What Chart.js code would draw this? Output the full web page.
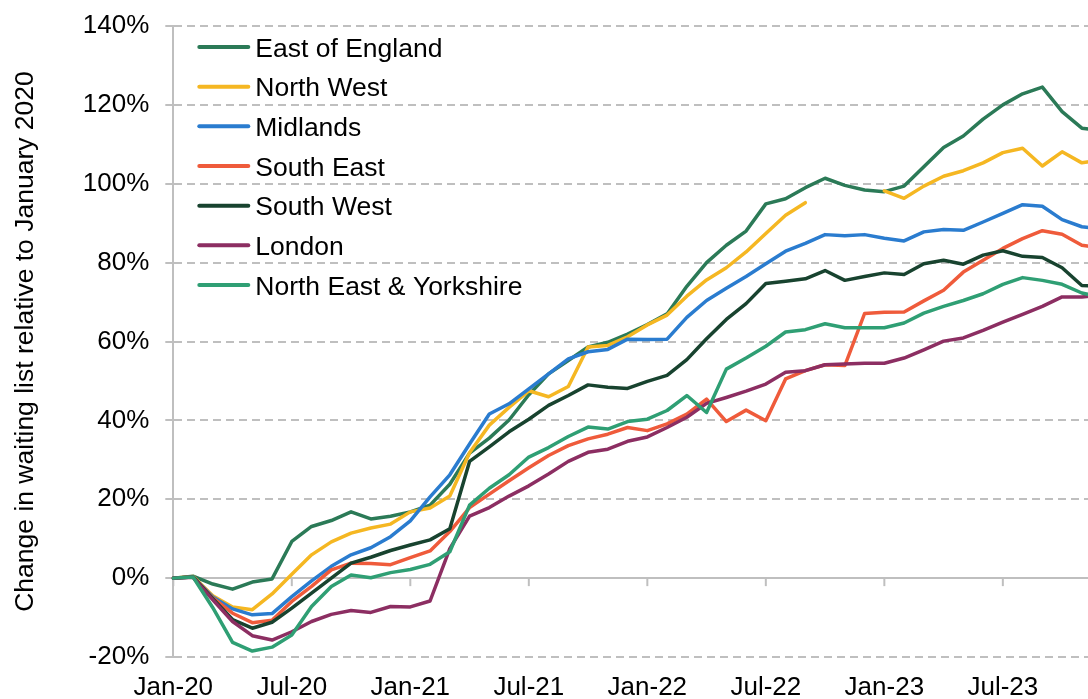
<!DOCTYPE html>
<html>
<head>
<meta charset="utf-8">
<script src="https://cdn.jsdelivr.net/npm/chart.js@4.4.0/dist/chart.umd.min.js"></script>
<style>
  html, body { margin: 0; padding: 0; background: #fff; overflow: hidden; }
  #wrap { width: 1088px; height: 699px; overflow: hidden; position: relative; }
  canvas { display: block; }
</style>
</head>
<body>
<div id="wrap"><canvas id="waitChart" width="1130" height="720"></canvas></div>
<script>
// month labels Jan-20 .. Dec-23
const monthNames = ["Jan", "Feb", "Mar", "Apr", "May", "Jun", "Jul", "Aug", "Sep", "Oct", "Nov", "Dec"];
const years = ["20", "21", "22", "23"];
const months = [];
years.forEach(y => monthNames.forEach(m => months.push(m + "-" + y)));

// % change in waiting list relative to January 2020
const eastOfEngland = [0, 0.5, -1.5, -2.8, -1.0, -0.2, 9.3, 13.1, 14.6, 16.8, 15.0, 15.7,
  16.8, 18.5, 23.8, 31.7, 35.5, 40.1, 46.5, 51.8, 55.2, 58.6, 59.8, 61.9,
  64.3, 67.0, 74.0, 80.0, 84.4, 88.0, 94.9, 96.2, 99.0, 101.4, 99.6, 98.4,
  98.0, 99.4, 104.3, 109.2, 112.1, 116.4, 120.0, 122.8, 124.5, 118.3, 114.1, 113.5];
const northWest = [0, 0.4, -4.5, -7.3, -8.0, -4.0, 1.0, 5.9, 9.2, 11.4, 12.7, 13.7,
  16.8, 17.8, 20.8, 31.8, 38.8, 43.3, 47.5, 46.0, 48.6, 58.6, 59.0, 61.2,
  64.2, 66.7, 71.5, 75.6, 78.7, 82.7, 87.4, 92.0, 95.2, null, null, null,
  98.2, 96.3, 99.4, 101.9, 103.3, 105.3, 107.9, 109.0, 104.5, 108.1, 105.3, 106.0];
const midlands = [0, 0.3, -4.8, -7.8, -9.3, -9.0, -4.7, -0.7, 3.0, 5.9, 7.7, 10.5,
  14.5, 20.6, 26.2, 34.0, 41.6, 44.2, 48.0, 51.8, 55.6, 57.4, 58.0, 60.6,
  60.5, 60.6, 66.1, 70.4, 73.5, 76.5, 79.7, 82.9, 84.9, 87.1, 86.8, 87.1,
  86.2, 85.5, 87.8, 88.4, 88.2, 90.3, 92.5, 94.7, 94.3, 90.9, 89.1, 88.5];
const southEast = [0, 0.3, -5.0, -8.9, -11.3, -10.7, -5.9, -2.1, 2.1, 3.8, 3.7, 3.4,
  5.2, 6.9, 11.8, 17.9, 21.3, 24.7, 28.0, 31.1, 33.6, 35.3, 36.5, 38.2,
  37.4, 39.1, 41.6, 45.4, 39.7, 42.6, 39.9, 50.5, 52.6, 54.1, 53.9, 67.1,
  67.4, 67.5, 70.3, 73.0, 77.6, 80.6, 83.6, 86.1, 88.1, 87.2, 84.4, 83.7];
const southWest = [0, 0.3, -5.2, -10.5, -12.7, -11.2, -7.6, -3.8, 0.0, 3.8, 5.3, 7.0,
  8.4, 9.7, 12.5, 29.6, 33.3, 37.1, 40.3, 43.8, 46.3, 49.0, 48.4, 48.1,
  49.9, 51.4, 55.4, 60.7, 65.6, 69.6, 74.7, 75.3, 75.9, 78.0, 75.5, 76.5,
  77.4, 77.0, 79.7, 80.6, 79.6, 81.9, 83.0, 81.6, 81.3, 78.7, 74.2, 74.0];
const london = [0, 0.2, -5.5, -11.0, -14.6, -15.7, -13.6, -11.0, -9.2, -8.2, -8.7, -7.2,
  -7.3, -5.8, 7.5, 15.7, 17.9, 20.8, 23.4, 26.4, 29.6, 31.9, 32.7, 34.7,
  35.8, 38.2, 40.8, 44.3, 45.8, 47.4, 49.2, 52.2, 52.6, 54.1, 54.3, 54.5,
  54.5, 55.8, 57.9, 60.1, 60.9, 62.8, 64.9, 66.9, 68.9, 71.3, 71.3, 71.8];
const northEastYorkshire = [0, 0.3, -7.5, -16.3, -18.5, -17.5, -14.4, -7.2, -2.1, 0.8, 0.1, 1.4,
  2.2, 3.5, 6.7, 18.5, 22.8, 26.2, 30.7, 33.1, 35.9, 38.3, 37.8, 39.7,
  40.3, 42.5, 46.3, 42.0, 53.0, 55.8, 58.8, 62.4, 63.0, 64.5, 63.5, 63.5,
  63.5, 64.7, 67.2, 68.9, 70.4, 72.1, 74.5, 76.2, 75.5, 74.5, 72.3, 71.2];

const regions = ["East of England", "North West", "Midlands", "South East", "South West", "London", "North East & Yorkshire"];
const series = [eastOfEngland, northWest, midlands, southEast, southWest, london, northEastYorkshire];
const colours = ["#2b7a57", "#f5b722", "#2a7ccf", "#ef5b3b", "#18432f", "#8c2e62", "#2f9f74"];

const gridGrey = "#bfbfbf";
const FONT = '"Liberation Sans", Arial, sans-serif';
Chart.defaults.font.family = FONT;
Chart.defaults.color = "#000";

// tick marks hanging off the 0% line every six months
const zeroTicks = {
  id: "zeroTicks",
  beforeDatasetsDraw(chart) {
    const { ctx, scales: { x, y } } = chart;
    const y0 = y.getPixelForValue(0);
    ctx.save();
    ctx.strokeStyle = gridGrey;
    ctx.lineWidth = 2;
    months.forEach((m, i) => {
      if (i % 6) return;
      const px = x.getPixelForValue(i);
      ctx.beginPath();
      ctx.moveTo(px, y0);
      ctx.lineTo(px, y0 + 8);
      ctx.stroke();
    });
    ctx.restore();
  }
};

// legend sitting inside the plot, top left
const insideLegend = {
  id: "insideLegend",
  afterDraw(chart) {
    const { ctx, chartArea } = chart;
    ctx.save();
    ctx.font = "26.5px " + FONT;
    ctx.textBaseline = "alphabetic";
    chart.data.datasets.forEach((ds, i) => {
      const cy = chartArea.top + 21 + i * 39.67;
      const x0 = chartArea.left + 26;
      ctx.strokeStyle = ds.borderColor;
      ctx.lineWidth = 4;
      ctx.lineCap = "round";
      ctx.beginPath();
      ctx.moveTo(x0, cy);
      ctx.lineTo(x0 + 49, cy);
      ctx.stroke();
      ctx.fillStyle = "#000";
      ctx.fillText(ds.label, x0 + 56, cy + 9.5);
    });
    ctx.restore();
  }
};

new Chart(document.getElementById("waitChart"), {
  type: "line",
  data: {
    labels: months,
    datasets: regions.map((name, i) => ({
      label: name,
      data: series[i],
      borderColor: colours[i],
      backgroundColor: colours[i],
      borderWidth: 3.5,
      borderJoinStyle: "round",
      borderCapStyle: "round",
      pointRadius: 0,
      tension: 0,
      spanGaps: false,
      order: regions.length - i
    }))
  },
  options: {
    responsive: false,
    animation: false,
    devicePixelRatio: 1,
    layout: { padding: { left: 0, top: 26, right: 28.4, bottom: 1.8 } },
    plugins: { legend: { display: false }, tooltip: { enabled: false } },
    scales: {
      x: {
        type: "category",
        grid: { display: false, drawTicks: false },
        border: { display: false },
        ticks: {
          autoSkip: false, maxRotation: 0, minRotation: 0, padding: 15,
          font: { size: 26 }, color: "#000",
          callback: function (v, i) { return i % 6 === 0 ? months[i] : ""; }
        }
      },
      y: {
        min: -20, max: 140,
        afterFit: scale => { scale.paddingTop = 0; },
        ticks: { stepSize: 20, padding: 16, font: { size: 26 }, color: "#000", callback: v => v + "%" },
        grid: { color: gridGrey, lineWidth: 2, tickLength: 8, tickColor: gridGrey, tickWidth: 2 },
        border: {
          display: true, color: gridGrey, width: 2,
          dash: c => (c.tick && c.tick.value === 0) ? [] : [8, 5]
        },
        title: {
          display: true, text: "Change in waiting list relative to January 2020",
          font: { size: 26.5 }, color: "#000", padding: { top: 10, bottom: 25 }
        }
      }
    }
  },
  plugins: [zeroTicks, insideLegend]
});
</script>
</body>
</html>
